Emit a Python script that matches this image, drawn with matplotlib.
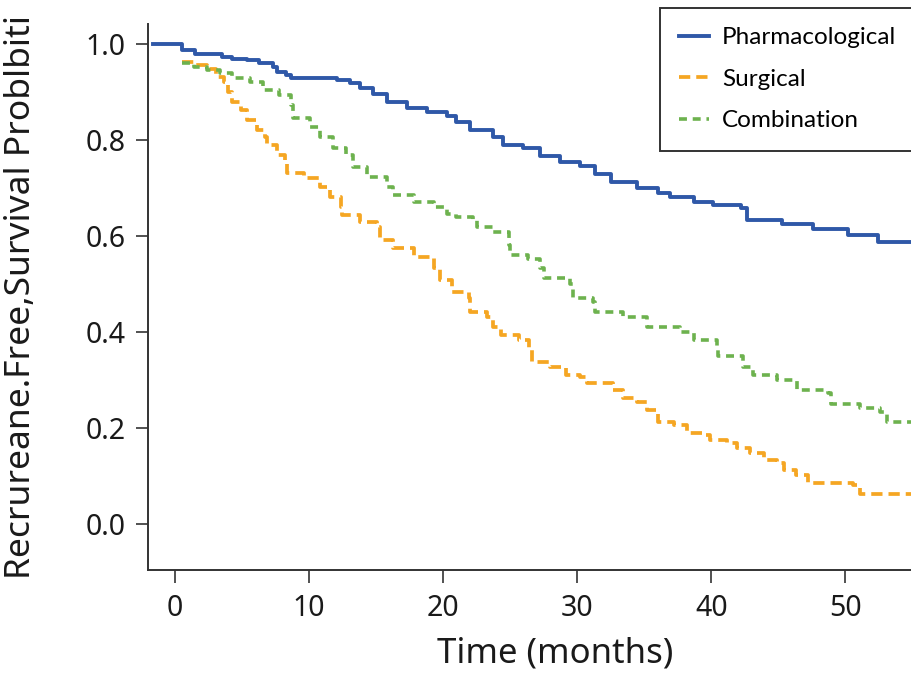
import numpy as np
from matplotlib import pyplot as plt

# Kaplan-Meier style step data (time in months, survival after step)
pharm_t = [-1.6, 0.5, 1.5, 3.5, 4.3, 5.4, 6.3, 7.3, 7.6, 8.3, 8.7, 12.1, 13.1, 13.8, 14.8,
           15.8, 17.3, 18.8, 20.3, 21.0, 22.0, 23.7, 24.5, 26.0, 27.2, 28.7, 30.2, 31.3,
           32.5, 34.5, 36.0, 36.9, 38.7, 40.1, 42.2, 42.7, 45.3, 47.6, 50.2, 52.4, 56.0]
pharm_s = [1.0, 0.988, 0.979, 0.973, 0.969, 0.966, 0.960, 0.953, 0.942, 0.935, 0.930, 0.925,
           0.919, 0.908, 0.896, 0.880, 0.867, 0.859, 0.850, 0.838, 0.821, 0.807, 0.790,
           0.783, 0.767, 0.755, 0.745, 0.730, 0.712, 0.700, 0.690, 0.681, 0.671, 0.664,
           0.658, 0.633, 0.625, 0.614, 0.602, 0.588, 0.588]

surg_t = [0.5, 1.4, 2.4, 3.1, 3.7, 4.0, 4.3, 4.9, 5.4, 6.1, 6.7, 6.9, 7.6, 8.2, 8.4, 9.6,
          10.8, 11.6, 12.4, 12.5, 13.8, 15.1, 15.3, 16.3, 17.8, 19.3, 19.8, 20.7, 21.9,
          22.0, 23.3, 23.7, 24.3, 25.7, 26.4, 26.6, 28.0, 29.2, 30.2, 30.7, 32.7, 33.4,
          34.5, 35.2, 36.0, 37.2, 38.2, 39.4, 39.9, 41.2, 41.9, 42.9, 43.9, 44.9, 45.4,
          46.3, 47.2, 50.6, 51.1, 56.0]
surg_s = [0.963, 0.956, 0.948, 0.932, 0.921, 0.900, 0.880, 0.862, 0.842, 0.821, 0.807,
          0.790, 0.769, 0.752, 0.731, 0.721, 0.702, 0.681, 0.660, 0.644, 0.629, 0.619,
          0.592, 0.575, 0.556, 0.533, 0.508, 0.484, 0.470, 0.442, 0.432, 0.411, 0.394,
          0.383, 0.367, 0.338, 0.328, 0.310, 0.307, 0.294, 0.279, 0.262, 0.255, 0.238,
          0.213, 0.206, 0.190, 0.185, 0.175, 0.169, 0.158, 0.148, 0.133, 0.127, 0.113,
          0.102, 0.085, 0.081, 0.062, 0.062]

comb_t = [0.5, 1.4, 2.4, 3.4, 4.3, 5.6, 6.6, 7.8, 8.7, 8.8, 10.1, 10.8, 11.8, 12.8, 13.3,
          14.3, 15.8, 16.3, 17.8, 19.3, 20.3, 21.0, 22.2, 22.5, 23.7, 24.9, 25.0, 26.3,
          27.2, 27.5, 29.5, 29.7, 31.2, 31.3, 33.4, 35.2, 37.7, 38.7, 40.4, 40.5, 42.4,
          43.1, 44.9, 46.4, 48.7, 48.9, 51.1, 52.6, 53.1, 56.0]
comb_s = [0.960, 0.953, 0.946, 0.940, 0.929, 0.921, 0.904, 0.894, 0.873, 0.846, 0.828,
          0.807, 0.783, 0.769, 0.744, 0.724, 0.703, 0.685, 0.671, 0.661, 0.647, 0.640,
          0.633, 0.619, 0.609, 0.581, 0.560, 0.553, 0.533, 0.512, 0.501, 0.470, 0.463,
          0.442, 0.432, 0.411, 0.401, 0.383, 0.369, 0.349, 0.328, 0.310, 0.300, 0.279,
          0.272, 0.251, 0.241, 0.234, 0.213, 0.213]

labels = ["Pharmacological", "Surgical", "Combination"]
xticks = [0, 10, 20, 30, 40, 50]
yticks = [0.0, 0.2, 0.4, 0.6, 0.8, 1.0]

plt.rcParams['font.family'] = ['Noto Sans', 'DejaVu Sans']

fig = plt.figure(figsize=(9.12, 6.82), dpi=100)
# axes run past the right edge of the picture, like the cropped original
ax = fig.add_axes([148 / 912, 112 / 682, 814 / 912, 546 / 682])

ax.plot(pharm_t, pharm_s, drawstyle='steps-post', color='#2f58a8', lw=2.8,
        label=labels[0], zorder=4)
ax.plot(surg_t, surg_s, drawstyle='steps-post', color='#f5a623', lw=2.7,
        ls=(0, (3.0, 1.6)), label=labels[1], zorder=2)
ax.plot(comb_t, comb_s, drawstyle='steps-post', color='#6db24e', lw=2.6,
        ls=(0, (2.2, 1.6)), label=labels[2], zorder=3)

ax.set_xlim(-2.0, 58.7)
ax.set_ylim(-0.096, 1.042)
ax.set_xticks(xticks)
ax.set_yticks(yticks)
ax.set_yticklabels([f"{v:.1f}" for v in yticks])

for s in ['top', 'right']:
    ax.spines[s].set_visible(False)
for s in ['left', 'bottom']:
    ax.spines[s].set_color('#333333')
    ax.spines[s].set_linewidth(1.4)

ax.tick_params(axis='both', colors='#333333', labelcolor='#1a1a1a', labelsize=20.5,
               length=9, width=1.2)
ax.tick_params(axis='x', pad=8)
ax.tick_params(axis='y', pad=7)

ax.set_xlabel("Time (months)", fontsize=25, color='#1a1a1a', labelpad=10)
ax.set_ylabel("Recrureane.Free,Survival Problbiti", fontsize=25.5, color='#1a1a1a')
ax.yaxis.set_label_coords(-0.135, 0.5)

leg = ax.legend(loc='upper left', bbox_to_anchor=(660 / 912, 1 - 8 / 682),
                bbox_transform=fig.transFigure, borderaxespad=0, fancybox=False,
                framealpha=1, edgecolor='#333333', handlelength=1.2,
                handletextpad=0.55, labelspacing=0.84, borderpad=0.8,
                prop={'family': ['Lato', 'DejaVu Sans'], 'size': 17.5})
leg.get_frame().set_linewidth(1.4)

fig.savefig("out.png", dpi=100)
